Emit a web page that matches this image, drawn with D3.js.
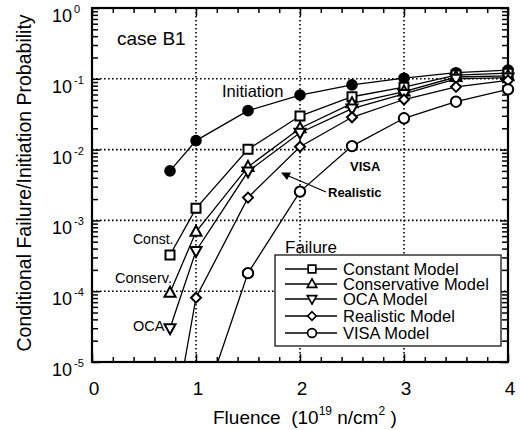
<!DOCTYPE html>
<html>
<head>
<meta charset="utf-8">
<script src="https://cdn.jsdelivr.net/npm/d3@7"></script>
<style>
  body { margin: 0; background: #fff; }
  svg { display: block; font-family: Arial, "Liberation Sans", Helvetica, sans-serif; }
</style>
</head>
<body>
<div id="chart"></div>
<script>
// values
var fluence = [0.75, 1.0, 1.5, 2.0, 2.5, 3.0, 3.5, 4.0]
var initiation = [0.005, 0.0134, 0.0355, 0.059, 0.082, 0.102, 0.122, 0.133]
var constantModel = [3.25e-4, 1.48e-3, 0.0101, 0.0298, 0.0558, 0.076, 0.113, 0.12]
var conservativeModel = [9.5e-5, 6.9e-4, 5.7e-3, 0.02, 0.045, 0.066, 0.106, 0.11]
var ocaModel = [3.0e-5, 3.7e-4, 4.9e-3, 0.0173, 0.038, 0.061, 0.1, 0.104]
var realisticModel = [7e-7, 8.1e-5, 2.1e-3, 0.011, 0.0286, 0.051, 0.077, 0.095]
var visaModel = [null, 1.25e-6, 1.8e-4, 2.55e-3, 0.0112, 0.0277, 0.0475, 0.071]

var xTicks = [0, 1, 2, 3, 4]
var yTicks = [1, 1e-1, 1e-2, 1e-3, 1e-4, 1e-5]
var yTickExp = ['0', '-1', '-2', '-3', '-4', '-5']
var legendNames = ['Constant Model', 'Conservative Model', 'OCA Model', 'Realistic Model', 'VISA Model']

var W = 520, H = 430
// plot box (note: "top" is taken by window.top, so use pTop etc)
var pLeft = 92, pRight = 508, pTop = 8, pBottom = 362

var x = d3.scaleLinear().domain([0, 4]).range([pLeft, pRight])
var y = d3.scaleLog().domain([1e-5, 1]).range([pBottom, pTop])

var svg = d3.select('#chart').append('svg').attr('width', W).attr('height', H)

svg.append('defs').append('clipPath').attr('id', 'clip')
  .append('rect').attr('x', 0).attr('y', 0).attr('width', W).attr('height', pBottom)

// dotted grid
var grid = svg.append('g')
  .attr('stroke', '#000').attr('stroke-width', 1.6).attr('stroke-dasharray', '1.6,2.4')
grid.selectAll('.gx').data([1, 2, 3]).enter().append('line')
  .attr('x1', function (d) { return x(d) }).attr('x2', function (d) { return x(d) })
  .attr('y1', pTop).attr('y2', pBottom)
grid.selectAll('.gy').data([1e-1, 1e-2, 1e-3, 1e-4]).enter().append('line')
  .attr('y1', function (d) { return y(d) }).attr('y2', function (d) { return y(d) })
  .attr('x1', pLeft).attr('x2', pRight)

// ticks, pointing inside, on all four sides
var xMinor = d3.range(0, 4.001, 0.2).filter(function (v) { return Math.abs(v - Math.round(v)) > 0.01 })
var yMinor = []
for (var e = -5; e < 0; e++) {
  for (var k = 2; k <= 9; k++) yMinor.push(k * Math.pow(10, e))
}

function tickAxis(axis, tr) {
  var g = svg.append('g').attr('transform', tr).call(axis)
  g.select('.domain').remove()
  g.selectAll('text').remove()
  g.selectAll('line').attr('stroke', '#000').attr('stroke-width', 1.5)
}
tickAxis(d3.axisBottom(x).tickValues(xTicks).tickSize(-8), 'translate(0,' + pBottom + ')')
tickAxis(d3.axisBottom(x).tickValues(xMinor).tickSize(-5), 'translate(0,' + pBottom + ')')
tickAxis(d3.axisTop(x).tickValues(xTicks).tickSize(-8), 'translate(0,' + pTop + ')')
tickAxis(d3.axisTop(x).tickValues(xMinor).tickSize(-5), 'translate(0,' + pTop + ')')
tickAxis(d3.axisLeft(y).tickValues(yTicks).tickSize(-8), 'translate(' + pLeft + ',0)')
tickAxis(d3.axisLeft(y).tickValues(yMinor).tickSize(-6), 'translate(' + pLeft + ',0)')
tickAxis(d3.axisRight(y).tickValues(yTicks).tickSize(-8), 'translate(' + pRight + ',0)')
tickAxis(d3.axisRight(y).tickValues(yMinor).tickSize(-6), 'translate(' + pRight + ',0)')

svg.append('rect')
  .attr('x', pLeft).attr('y', pTop).attr('width', pRight - pLeft).attr('height', pBottom - pTop)
  .attr('fill', 'none').attr('stroke', '#000').attr('stroke-width', 2.2)

// tick labels
svg.selectAll('.xl').data(xTicks).enter().append('text')
  .attr('x', function (d) { return x(d) + 2 }).attr('y', 395)
  .attr('text-anchor', 'middle').attr('font-size', 19)
  .text(function (d) { return d })

yTicks.forEach(function (v, i) {
  var t = svg.append('text').attr('x', 52).attr('y', y(v) + 14).attr('font-size', 18)
  t.append('tspan').text('10')
  t.append('tspan').attr('dy', -9).attr('dx', 2).attr('font-size', 11).text(yTickExp[i])
})

// axis titles
var xt = svg.append('text').attr('x', 213).attr('y', 424).attr('font-size', 19)
xt.append('tspan').text('Fluence \u00a0(10')
xt.append('tspan').attr('dy', -9).attr('font-size', 12).text('19')
xt.append('tspan').attr('dy', 9).text(' n/cm')
xt.append('tspan').attr('dy', -9).attr('font-size', 12).text('2')
xt.append('tspan').attr('dy', 9).text('\u00a0)')

svg.append('text')
  .attr('transform', 'translate(31,183) rotate(-90)')
  .attr('text-anchor', 'middle').attr('font-size', 19.5)
  .text('Conditional Failure/Initiation Probability')

// marker shapes
function markerPath(type) {
  if (type === 'square') return 'M-4.5,-4.5H4.5V4.5H-4.5Z'
  if (type === 'tri') return 'M0,-6L5.5,4L-5.5,4Z'
  if (type === 'tridown') return 'M0,6L5.5,-4L-5.5,-4Z'
  if (type === 'diamond') return 'M0,-5L5,0L0,5L-5,0Z'
  return d3.arc()({ innerRadius: 0, outerRadius: 5.2, startAngle: 0, endAngle: 2 * Math.PI })
}

var series = [
  { values: initiation, type: 'dot' },
  { values: constantModel, type: 'square' },
  { values: conservativeModel, type: 'tri' },
  { values: ocaModel, type: 'tridown' },
  { values: realisticModel, type: 'diamond' },
  { values: visaModel, type: 'circle' }
]

var line = d3.line()
  .defined(function (d) { return d[1] != null })
  .x(function (d) { return x(d[0]) })
  .y(function (d) { return y(d[1]) })

var plot = svg.append('g').attr('clip-path', 'url(#clip)')
series.forEach(function (s) {
  var pts = fluence.map(function (f, i) { return [f, s.values[i]] })
  plot.append('path').datum(pts)
    .attr('d', line).attr('fill', 'none').attr('stroke', '#000').attr('stroke-width', 1.3)
})

series.forEach(function (s) {
  var pts = fluence.map(function (f, i) { return [f, s.values[i]] })
    .filter(function (d) { return d[1] != null && d[1] >= 1e-5 })
  var g = svg.append('g')
  if (s.type === 'dot') {
    g.selectAll('circle').data(pts).enter().append('circle')
      .attr('cx', function (d) { return x(d[0]) }).attr('cy', function (d) { return y(d[1]) })
      .attr('r', 5.8).attr('fill', '#000')
  } else {
    g.selectAll('path').data(pts).enter().append('path')
      .attr('d', markerPath(s.type))
      .attr('transform', function (d) { return 'translate(' + x(d[0]) + ',' + y(d[1]) + ')' })
      .attr('fill', '#fff').attr('stroke', '#000').attr('stroke-width', 2)
  }
})

// annotations
function label(txt, lx, ly, size, weight) {
  svg.append('text').attr('x', lx).attr('y', ly).attr('font-size', size)
    .attr('font-weight', weight || 'normal').text(txt)
}
label('case B1', 117, 45, 19)
label('Initiation', 222, 97, 16.5)
label('Const.', 133, 244, 14)
label('Conserv.', 115, 283, 14.5)
label('OCA', 133, 331, 14.5)
label('VISA', 350, 171, 13, 'bold')
label('Realistic', 328, 197, 13, 'bold')

// arrow to realistic curve
svg.append('line').attr('x1', 326).attr('y1', 192).attr('x2', 284).attr('y2', 174)
  .attr('stroke', '#000').attr('stroke-width', 1.2)
svg.append('path').attr('d', 'M281,172.5L291,172.5L287,180Z').attr('fill', '#000')

// legend
label('Failure', 285, 253, 17)
svg.append('rect').attr('x', 275).attr('y', 255).attr('width', 226).attr('height', 91)
  .attr('fill', '#fff').attr('stroke', '#000').attr('stroke-width', 1.2)
var legendY = [269, 284, 299, 316, 333]
var legendTypes = ['square', 'tri', 'tridown', 'diamond', 'circle']
legendNames.forEach(function (name, i) {
  var ly = legendY[i]
  svg.append('line').attr('x1', 285).attr('x2', 337).attr('y1', ly).attr('y2', ly)
    .attr('stroke', '#000').attr('stroke-width', 1.5)
  svg.append('path').attr('d', markerPath(legendTypes[i]))
    .attr('transform', 'translate(312,' + ly + ') scale(0.85)')
    .attr('fill', '#fff').attr('stroke', '#000').attr('stroke-width', 2)
  label(name, 343, ly + 6, 16.5)
})
</script>
</body>
</html>
